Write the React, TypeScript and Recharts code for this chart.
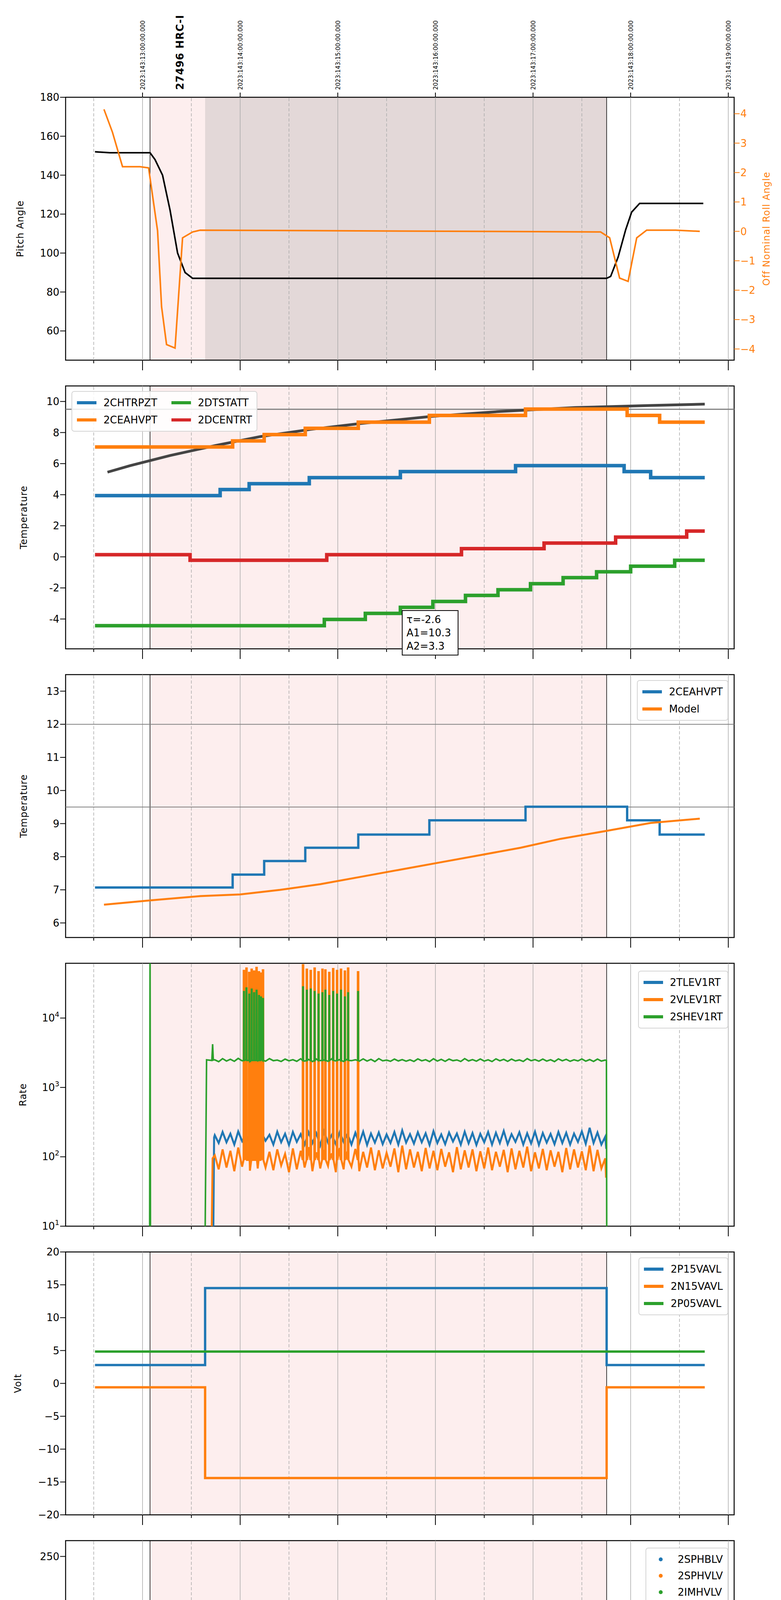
import React from 'react';
import {
  ComposedChart, Line, Scatter, XAxis, YAxis, ReferenceArea, ReferenceLine,
} from 'recharts';

// ---------- shared axis / layout values ----------
const X_DOMAIN: [number, number] = [8.212, 15.06];
const HOURS = [9, 10, 11, 12, 13, 14, 15];
const HALF_HOURS = [8.5, 9.5, 10.5, 11.5, 12.5, 13.5, 14.5];
const ALL_TICKS = [8.5, 9, 9.5, 10, 10.5, 11, 11.5, 12, 12.5, 13, 13.5, 14, 14.5, 15];
const OBS_START = 9.077;
const SLEW_END = 9.641;
const OBS_END = 13.754;

const BLUE = '#1f77b4';
const ORANGE = '#ff7f0e';
const GREEN = '#2ca02c';
const RED = '#d62728';
const FONT = 'DejaVu Sans';

type P = [number, number];

// ---------- panel 1: pitch / roll ----------
const pitch: P[] = [
  [8.513, 152], [8.667, 151.5], [9.077, 151.5], [9.128, 148], [9.205, 140], [9.282, 122],
  [9.359, 100], [9.436, 90], [9.513, 87], [13.754, 87], [13.795, 88], [13.872, 98],
  [13.949, 112], [14.01, 121], [14.092, 125.5], [14.744, 125.5],
];
const roll: P[] = [
  [8.605, 4.15], [8.692, 3.37], [8.795, 2.2], [8.974, 2.2], [9.062, 2.16], [9.154, 0.02],
  [9.195, -2.56], [9.246, -3.85], [9.333, -3.97], [9.41, -0.22], [9.513, -0.02], [9.59, 0.04],
  [13.692, -0.02], [13.785, -0.22], [13.887, -1.59], [13.974, -1.7], [14.062, -0.22],
  [14.164, 0.04], [14.462, 0.04], [14.708, 0.0],
];

// ---------- panel 2: temperatures ----------
const chtrpzt: P[] = [
  [8.513, 3.94], [9.795, 4.33], [10.092, 4.71], [10.708, 5.1], [11.641, 5.49], [12.821, 5.87],
  [13.933, 5.49], [14.205, 5.1], [14.759, 5.1],
];
const ceahvpt: P[] = [
  [8.513, 7.07], [9.923, 7.46], [10.246, 7.87], [10.667, 8.27], [11.21, 8.67], [11.938, 9.1],
  [12.923, 9.51], [13.964, 9.1], [14.297, 8.67], [14.759, 8.67],
];
const dcentrt: P[] = [
  [8.513, 0.14], [9.487, -0.22], [10.887, 0.14], [12.267, 0.53], [13.113, 0.89],
  [13.846, 1.27], [14.574, 1.66], [14.759, 1.66],
];
const dtstatt: P[] = [
  [8.513, -4.43], [10.862, -4.03], [11.282, -3.64], [11.641, -3.25], [11.974, -2.87],
  [12.308, -2.48], [12.641, -2.12], [12.974, -1.73], [13.308, -1.34], [13.651, -0.96],
  [14.0, -0.6], [14.451, -0.22], [14.759, -0.22],
];
const tempModel: P[] = [
  [8.641, 5.45], [8.872, 5.87], [9.282, 6.52], [9.744, 7.16], [10.205, 7.74], [10.718, 8.2],
  [11.231, 8.58], [11.949, 9.03], [12.667, 9.36], [13.436, 9.61], [14.205, 9.74], [14.759, 9.83],
];

// ---------- panel 3: 2CEAHVPT vs model ----------
const ceaModel: P[] = [
  [8.605, 6.55], [9.077, 6.68], [9.59, 6.81], [10.0, 6.86], [10.41, 7.0], [10.821, 7.17],
  [11.231, 7.39], [11.641, 7.61], [12.051, 7.83], [12.462, 8.05], [12.872, 8.27],
  [13.282, 8.54], [13.754, 8.78], [14.205, 9.02], [14.708, 9.15],
];

// ---------- panel 4: rates ----------
const rateTimes = [
  9.74, 9.78, 9.82, 9.86, 9.9, 9.94, 9.98, 10.02, 10.06, 10.1, 10.14, 10.18, 10.22, 10.26,
  10.3, 10.34, 10.38, 10.42, 10.46, 10.5, 10.54, 10.58, 10.62, 10.66, 10.7, 10.74, 10.78,
  10.82, 10.86, 10.9, 10.94, 10.98, 11.02, 11.06, 11.1, 11.14, 11.18, 11.22, 11.26, 11.3,
  11.34, 11.38, 11.42, 11.46, 11.5, 11.54, 11.58, 11.62, 11.66, 11.7, 11.74, 11.78, 11.82,
  11.86, 11.9, 11.94, 11.98, 12.02, 12.06, 12.1, 12.14, 12.18, 12.22, 12.26, 12.3, 12.34,
  12.38, 12.42, 12.46, 12.5, 12.54, 12.58, 12.62, 12.66, 12.7, 12.74, 12.78, 12.82, 12.86,
  12.9, 12.94, 12.98, 13.02, 13.06, 13.1, 13.14, 13.18, 13.22, 13.26, 13.3, 13.34, 13.38,
  13.42, 13.46, 13.5, 13.54, 13.58, 13.62, 13.66, 13.7, 13.74,
];
const tlev = [
  205, 158, 228, 162, 215, 150, 232, 168, 210, 152, 236, 158, 222, 170, 208, 150, 230, 162,
  215, 148, 228, 164, 212, 150, 226, 158, 218, 146, 232, 160, 208, 152, 226, 164, 214, 150,
  222, 156, 230, 148, 216, 160, 224, 152, 210, 158, 228, 150, 240, 160, 212, 155, 226, 162,
  218, 148, 234, 158, 210, 152, 224, 166, 216, 150, 230, 156, 220, 148, 214, 162, 228, 150,
  222, 158, 236, 152, 212, 164, 226, 150, 218, 156, 230, 148, 220, 160, 214, 152, 228, 158,
  222, 150, 216, 164, 232, 154, 262, 158, 224, 150, 195,
];
const vlev = [
  105, 66, 128, 70, 122, 62, 136, 72, 116, 63, 126, 68, 140, 70, 118, 64, 128, 75, 110, 60,
  132, 66, 122, 70, 138, 62, 116, 68, 126, 74, 112, 60, 134, 66, 120, 72, 130, 62, 118, 70,
  136, 64, 124, 68, 114, 72, 132, 60, 145, 66, 128, 70, 118, 62, 134, 68, 122, 64, 130, 72,
  116, 60, 138, 66, 124, 70, 128, 62, 120, 68, 136, 64, 118, 72, 126, 60, 132, 66, 122, 70,
  140, 62, 116, 68, 130, 64, 124, 72, 118, 60, 134, 66, 128, 70, 120, 64, 145, 62, 126, 68, 95,
];
const shev = [
  2500, 2350, 2600, 2400, 2550, 2380, 2620, 2420, 2500, 2360, 2580, 2410, 2540, 2390, 2600,
  2430, 2480, 2370, 2560, 2420, 2510, 2380, 2590, 2400, 2530, 2360, 2570, 2440, 2490, 2380,
  2600, 2410, 2520, 2370, 2560, 2430, 2500, 2390, 2580, 2400, 2540, 2360, 2600, 2420, 2480,
  2380, 2560, 2410, 2520, 2390, 2500, 2370, 2580, 2420, 2510, 2360, 2590, 2400, 2540, 2380,
  2560, 2430, 2490, 2370, 2600, 2410, 2520, 2390, 2570, 2400, 2500, 2360, 2580, 2420, 2540,
  2380, 2560, 2410, 2490, 2370, 2600, 2430, 2520, 2390, 2560, 2400, 2510, 2360, 2580, 2420,
  2540, 2380, 2500, 2410, 2570, 2390, 2520, 2370, 2560, 2400, 2480,
];
const spikeTimes = [
  10.036, 10.062, 10.09, 10.115, 10.14, 10.165, 10.19, 10.21, 10.231,
  10.641, 10.68, 10.72, 10.76, 10.8, 10.84, 10.87, 10.91, 10.95, 10.99, 11.03, 11.07, 11.103, 11.205,
];
const vlevPeaks = [
  48000, 52000, 45000, 50000, 47000, 53000, 46000, 44000, 49000,
  58000, 50000, 48000, 52000, 46000, 50000, 49000, 45000, 51000, 48000, 50000, 47000, 52000, 46000,
];
const shevPeaks = [
  24000, 27000, 22000, 26000, 23000, 25000, 21000, 20000, 19000,
  28000, 25000, 26000, 24000, 22000, 23000, 25000, 21000, 24000, 22000, 25000, 20000, 23000, 24000,
];

// ---------- panel 5: voltages ----------
const p15: P[] = [[8.513, 2.8], [9.641, 14.5], [13.754, 2.8], [14.759, 2.8]];
const n15: P[] = [[8.513, -0.6], [9.641, -14.4], [13.754, -0.6], [14.759, -0.6]];
const p05: P[] = [[8.513, 4.85], [14.759, 4.85]];

// ---------- panel 6: HV monitor ----------
const imhvlvBand: P[] = [[9.72, 79], [13.754, 79]];
const imhblvBand: P[] = [[9.733, 86], [13.754, 86]];
const imhvlvDots: P[] = [
  [9.667, 100], [9.672, 95], [9.677, 90], [9.687, 86], [9.697, 82], [9.71, 80],
  [10.103, 127], [10.959, 127], [11.01, 127], [11.103, 127],
];
const imhblvDots: P[] = [
  [9.667, 127], [9.667, 125], [9.667, 119], [9.672, 106], [9.677, 105], [9.682, 101],
  [9.687, 97], [9.69, 93], [9.697, 90], [9.703, 88], [9.71, 87],
  [10.092, 79], [10.1, 79], [10.954, 79], [11.01, 79], [11.1, 79],
];

// ---------- panel 7: detector temps ----------
const imhvatm: P[] = [
  [9.636, -5], [9.641, 15.58], [9.862, 15.8], [9.974, 16.1], [10.077, 16.42], [10.205, 16.7],
  [10.349, 16.95], [10.513, 17.23], [10.708, 17.6], [10.964, 17.83], [11.292, 18.13],
  [11.703, 18.4], [12.215, 18.68], [12.974, 18.97], [13.754, 25], [13.758, -5],
];
const sphvatm: P[] = [
  [9.641, 16.1], [10.554, 16.42], [11.051, 16.65], [11.59, 16.95], [12.231, 17.25],
  [13.036, 17.52], [13.744, 17.52],
];
const sphvatmDips = [
  10.6, 10.6, 10.6, 10.6, 10.6, 10.7, 10.8, 10.8, 10.8,
  11.1, 11.1, 11.1, 11.1, 11.1, 11.1, 11.1, 11.1, 11.1, 11.1, 11.1, 11.1, 11.4, 16.65,
];
const spinatm: P[] = [[9.641, 3.26], [11.821, 3.72], [13.564, 4.15], [13.744, 4.15]];
const iminatm: P[] = [[9.641, 0.66], [10.554, 1.09], [11.979, 1.5], [13.041, 1.93], [13.744, 1.93]];

// ---------- panel 8: FEA temps ----------
const fhtrmzt: P[] = [
  [8.513, -7.98], [9.862, -7.56], [10.036, -7.17], [10.195, -6.78], [10.349, -6.39],
  [10.513, -5.97], [10.682, -5.57], [10.862, -5.19], [11.026, -4.8], [11.205, -4.41],
  [11.395, -4.02], [11.59, -3.65], [11.785, -3.26], [11.99, -2.86], [12.205, -2.51],
  [12.421, -2.14], [12.651, -1.75], [12.882, -1.36], [13.118, -0.99], [13.374, -0.6],
  [13.651, -0.24], [14.128, -0.6], [14.436, -0.99], [14.759, -0.99],
];
const fhtrmztSpikeT = [11.272, 12.446, 13.036, 13.692];
const fhtrmztSpikeV = [-5.26, -0.55, -2.53, -0.99];
const fradpyt: P[] = [
  [9.051, -11], [9.056, -9.6], [9.564, -11], [9.938, -9.6], [10.144, -9.2], [10.333, -8.8],
  [10.513, -8.39], [10.708, -7.98], [10.908, -7.56], [11.103, -7.17], [11.318, -6.78],
  [11.528, -6.39], [11.744, -5.99], [11.964, -5.58], [12.205, -5.21], [12.462, -4.8],
  [12.708, -4.43], [12.974, -4.04], [13.246, -3.66], [13.528, -3.28], [14.272, -3.66],
  [14.759, -3.66],
];
const fepratm: P[] = [
  [9.667, -6.65], [9.718, -6.18], [9.779, -5.76], [9.846, -5.4], [9.923, -5.0], [10.0, -4.61],
  [10.231, -3.83], [10.282, -3.42], [10.421, -3.0], [10.579, -2.58], [10.759, -2.2],
  [11.103, -1.39], [11.292, -1.02], [11.513, -0.6], [11.718, -0.19], [11.949, 0.28],
  [12.179, 0.68], [12.436, 1.09], [12.692, 1.53], [12.974, 1.93], [13.267, 2.39],
  [13.579, 2.83], [13.744, 2.83],
];
const fe00atm: P[] = [
  [9.636, -11], [9.641, -5.97], [9.744, -5.6], [9.897, -5.24], [9.974, -4.88], [10.231, -4.15],
  [10.308, -3.83], [10.462, -3.42], [10.538, -3.05], [10.718, -2.6], [11.077, -1.75],
  [11.231, -1.39], [11.385, -1.07], [11.528, -0.76], [11.692, -0.47], [11.872, -0.14],
  [12.026, 0.2], [12.205, 0.54], [12.359, 0.8], [12.538, 1.14], [12.759, 1.45],
  [12.949, 1.74], [13.128, 2.07], [13.323, 2.39], [13.579, 2.68], [13.754, 5], [13.758, -11],
];
const fe00DipT = [11.523, 11.667, 12.487, 13.333];
const fe00DipV = [-1.8, -1.5, -0.2, 1.7];

// ---------- helpers ----------
const pts = (a: P[]) => a.map(([x, y]) => ({ x, y }));
const levelAt = (steps: P[], t: number) => {
  let v = steps[0][1];
  for (const [x, y] of steps) if (x <= t) v = y;
  return v;
};
// step series with short excursions at the given times
const withSpikes = (steps: P[], times: number[], peaks: number[] | number, w: number) => {
  const out: P[] = [...steps];
  times.forEach((t, i) => {
    const pk = Array.isArray(peaks) ? peaks[i] : peaks;
    out.push([t, pk], [t + w, levelAt(steps, t)]);
  });
  return pts(out.sort((a, b) => a[0] - b[0]));
};
// noisy rate series: head + samples + narrow spikes + tail
const rateSeries = (head: P[], vals: number[], tail: P[], base: number, peaks?: number[]) => {
  const out: P[] = [...head, ...rateTimes.map((t, i) => [t, vals[i]] as P), ...tail];
  if (peaks) spikeTimes.forEach((t, i) => out.push([t - 0.001, base], [t, peaks[i]], [t + 0.006, peaks[i]], [t + 0.007, base]));
  return pts(out.sort((a, b) => a[0] - b[0]));
};

const tickStyle = { fill: '#000', fontSize: 26, fontFamily: FONT };
const PH = 673;
const TOPS = [249, 988, 1727, 2466, 3205, 3944, 4683, 5422];
const PAD = 20;

function background(brown = false) {
  return [
    <ReferenceArea key="obs" x1={OBS_START} x2={OBS_END} fill="#fdeeee" fillOpacity={1} />,
    brown ? <ReferenceArea key="br" x1={SLEW_END} x2={OBS_END} fill="#e3d8d8" fillOpacity={1} /> : null,
    ...HOURS.map((h) => <ReferenceLine key={`h${h}`} x={h} stroke="#aaa" strokeWidth={1.5} />),
    ...HALF_HOURS.map((h) => <ReferenceLine key={`hh${h}`} x={h} stroke="#aaa" strokeWidth={1.5} strokeDasharray="8 5" />),
    <ReferenceLine key="s" x={OBS_START} stroke="#000" strokeWidth={1.5} />,
    <ReferenceLine key="e" x={OBS_END} stroke="#000" strokeWidth={1.5} />,
  ].filter(Boolean);
}

const frame = (y1: number, y2: number) => (
  <ReferenceArea x1={X_DOMAIN[0]} x2={X_DOMAIN[1]} y1={y1} y2={y2} fill="none" stroke="#000" strokeWidth={2.5} ifOverflow="visible" />
);

const MidTick = (p: any) => {
  const major = Number.isInteger(p.payload.value);
  return <line x1={p.x} x2={p.x} y1={p.y} y2={p.y + (major ? 26 : 8)} stroke="#000" strokeWidth={2} />;
};
const BottomTick = (p: any) => {
  const v = p.payload.value;
  const major = Number.isInteger(v);
  return (
    <g>
      <line x1={p.x} x2={p.x} y1={p.y} y2={p.y + (major ? 26 : 8)} stroke="#000" strokeWidth={2} />
      {major ? (
        <text x={p.x} y={p.y + 62} textAnchor="middle" fontSize={30} fontFamily={FONT}>{`${String(v).padStart(2, '0')}h`}</text>
      ) : (
        <text x={p.x} y={p.y + 22} textAnchor="middle" fontSize={17} fontFamily={FONT}>30</text>
      )}
    </g>
  );
};
const TopTick = (p: any) => (
  <g>
    <line x1={p.x} x2={p.x} y1={p.y} y2={p.y - 12} stroke="#000" strokeWidth={2} />
    <text transform={`translate(${p.x + 6},${p.y - 19}) rotate(-90)`} fontSize={15} fontFamily={FONT}>
      {`2023:143:${p.payload.value + 4}:00:00.000`}
    </text>
  </g>
);
const LogTick = (p: any) => (
  <text x={p.x} y={p.y + 9} textAnchor="end" fontSize={26} fontFamily={FONT}>
    10<tspan dy={-12} fontSize={18}>{Math.round(Math.log10(p.payload.value))}</tspan>
  </text>
);

interface LegendItem { name: string; color: string; dot?: boolean }
function LegendBox({ items, style, cols = 1 }: { items: LegendItem[]; style: React.CSSProperties; cols?: number }) {
  return (
    <div style={{
      position: 'absolute', background: 'rgba(255,255,255,0.85)', border: '2px solid #d5d5d5', borderRadius: 7,
      padding: '10px 12px', display: 'grid', gridTemplateColumns: `repeat(${cols}, auto)`, columnGap: 36, rowGap: 8,
      fontFamily: FONT, fontSize: 26, zIndex: 5, ...style,
    }}>
      {items.map((it) => (
        <div key={it.name} style={{ display: 'flex', alignItems: 'center', gap: 18, height: 36 }}>
          {it.dot ? (
            <span style={{ width: 50, display: 'flex', justifyContent: 'center' }}>
              <span style={{ width: 10, height: 10, borderRadius: 5, background: it.color }} />
            </span>
          ) : (
            <span style={{ width: 50, height: 8, background: it.color }} />
          )}
          <span>{it.name}</span>
        </div>
      ))}
    </div>
  );
}

// axis titles, drawn in one overlay
const Y_LABELS: { text: string; x: number; panel: number; color?: string }[] = [
  { text: 'Pitch Angle', x: 51, panel: 0 },
  { text: 'Off Nominal Roll Angle', x: 1962, panel: 0, color: ORANGE },
  { text: 'Temperature', x: 60, panel: 1 },
  { text: 'Temperature', x: 60, panel: 2 },
  { text: 'Rate', x: 58, panel: 3 },
  { text: 'Volt', x: 45, panel: 4 },
  { text: 'HV Monitor', x: 51, panel: 5 },
  { text: 'Detector Temp', x: 41, panel: 6 },
  { text: 'FEA Temp', x: 61, panel: 7 },
];

const xAxisMid = (
  <XAxis dataKey="x" type="number" domain={X_DOMAIN} allowDataOverflow ticks={ALL_TICKS} tick={<MidTick />}
    tickLine={false} axisLine={false} tickSize={0} tickMargin={0} height={40} interval={0} />
);

function Chart({ idx, children, height, margin }: { idx: number; children: React.ReactNode; height?: number; margin?: any }) {
  return (
    <div style={{ position: 'absolute', left: 0, top: idx === 0 ? 0 : TOPS[idx] - PAD }}>
      <ComposedChart width={2000} height={height ?? PH + 40 + PAD} margin={margin ?? { top: PAD, right: 120, bottom: 0, left: 0 }}>
        {children}
      </ComposedChart>
    </div>
  );
}

const yAxisProps = {
  type: 'number' as const, width: 168, tick: tickStyle, tickSize: 14, axisLine: false,
  tickLine: { stroke: '#000', strokeWidth: 2 }, allowDataOverflow: true, interval: 0 as const,
};
const minus = (v: number) => String(v).replace('-', '\u2212');

export default function App() {
  return (
    <div style={{ position: 'relative', width: 2000, height: 6200, background: '#fff', fontFamily: FONT }}>
      <style>{'body{margin:0}'}</style>

      {/* Panel 1 */}
      <Chart idx={0} height={249 + PH + 40} margin={{ top: 0, right: 0, bottom: 0, left: 0 }}>
        <XAxis xAxisId="top" orientation="top" dataKey="x" type="number" domain={X_DOMAIN} allowDataOverflow
          ticks={HOURS} tick={<TopTick />} tickLine={false} axisLine={false} tickSize={0} tickMargin={0} height={249} interval={0} />
        {xAxisMid}
        <YAxis {...yAxisProps} domain={[45, 180]} ticks={[60, 80, 100, 120, 140, 160, 180]} />
        <YAxis {...yAxisProps} yAxisId="r" orientation="right" width={120} domain={[-4.38, 4.56]}
          ticks={[-4, -3, -2, -1, 0, 1, 2, 3, 4]} tick={{ ...tickStyle, fill: ORANGE }} tickFormatter={minus}
          tickLine={{ stroke: ORANGE, strokeWidth: 2 }} />
        {background(true)}
        <ReferenceLine x={9.42} stroke="none" label={(p: any) => (
          <text transform={`translate(${p.viewBox.x},${p.viewBox.y - 19}) rotate(-90)`} fontSize={26}
            fontWeight="bold" fontFamily={FONT} letterSpacing={1}>27496 HRC-I</text>
        )} />
        <Line data={pts(pitch)} dataKey="y" stroke="#000" strokeWidth={4} dot={false} isAnimationActive={false} />
        <Line data={pts(roll)} dataKey="y" yAxisId="r" stroke={ORANGE} strokeWidth={4} dot={false} isAnimationActive={false} />
        {frame(45, 180)}
      </Chart>

      {/* Panel 2 */}
      <Chart idx={1}>
        {xAxisMid}
        <YAxis {...yAxisProps} domain={[-5.92, 11.0]} ticks={[-4, -2, 0, 2, 4, 6, 8, 10]} />
        {background()}
        <ReferenceLine y={9.5} stroke="#808080" strokeWidth={3} />
        <Line data={pts(tempModel)} dataKey="y" stroke="#444" strokeWidth={7} dot={false} isAnimationActive={false} />
        <Line data={pts(chtrpzt)} type="stepAfter" dataKey="y" stroke={BLUE} strokeWidth={9} dot={false} isAnimationActive={false} />
        <Line data={pts(ceahvpt)} type="stepAfter" dataKey="y" stroke={ORANGE} strokeWidth={9} dot={false} isAnimationActive={false} />
        <Line data={pts(dtstatt)} type="stepAfter" dataKey="y" stroke={GREEN} strokeWidth={9} dot={false} isAnimationActive={false} />
        <Line data={pts(dcentrt)} type="stepAfter" dataKey="y" stroke={RED} strokeWidth={9} dot={false} isAnimationActive={false} />
        {frame(-5.92, 11.0)}
      </Chart>
      <LegendBox cols={2} style={{ left: 183, top: 1001 }} items={[
        { name: '2CHTRPZT', color: BLUE }, { name: '2DTSTATT', color: GREEN },
        { name: '2CEAHVPT', color: ORANGE }, { name: '2DCENTRT', color: RED },
      ]} />
      <div style={{
        position: 'absolute', left: 1029, top: 1562, width: 145, height: 116, border: '2.5px solid #000',
        background: '#fff', fontSize: 26, lineHeight: '34px', padding: '5px 0 0 10px', boxSizing: 'border-box', zIndex: 5,
      }}>
        τ=-2.6<br />A1=10.3<br />A2=3.3
      </div>

      {/* Panel 3 */}
      <Chart idx={2}>
        {xAxisMid}
        <YAxis {...yAxisProps} domain={[5.56, 13.5]} ticks={[6, 7, 8, 9, 10, 11, 12, 13]} />
        {background()}
        <ReferenceLine y={12} stroke="#808080" strokeWidth={2} />
        <ReferenceLine y={9.5} stroke="#808080" strokeWidth={2} />
        <Line data={pts(ceahvpt)} type="stepAfter" dataKey="y" stroke={BLUE} strokeWidth={6} dot={false} isAnimationActive={false} />
        <Line data={pts(ceaModel)} dataKey="y" stroke={ORANGE} strokeWidth={5} dot={false} isAnimationActive={false} />
        {frame(5.56, 13.5)}
      </Chart>
      <LegendBox style={{ right: 135, top: 1741 }} items={[{ name: '2CEAHVPT', color: BLUE }, { name: 'Model', color: ORANGE }]} />

      {/* Panel 4 */}
      <Chart idx={3}>
        {xAxisMid}
        <YAxis {...yAxisProps} scale="log" domain={[10, 61600]} ticks={[10, 100, 1000, 10000]} tick={<LogTick />} />
        {background()}
        <Line data={rateSeries([[9.72, 1], [9.733, 190]], tlev, [[13.75, 130]], 190)}
          dataKey="y" stroke={BLUE} strokeWidth={5} dot={false} isAnimationActive={false} />
        <Line data={rateSeries([[9.7, 1], [9.718, 95]], vlev, [[13.748, 50]], 90, vlevPeaks)}
          dataKey="y" stroke={ORANGE} strokeWidth={5} dot={false} isAnimationActive={false} />
        <Line data={rateSeries([[9.06, 1], [9.072, 1], [9.077, 100000], [9.082, 1], [9.636, 1], [9.656, 2500], [9.71, 2450], [9.718, 4200], [9.725, 2480]], shev, [[13.752, 2450], [13.756, 1]], 2450, shevPeaks)}
          dataKey="y" stroke={GREEN} strokeWidth={4} dot={false} isAnimationActive={false} />
        {frame(10, 61600)}
      </Chart>
      <LegendBox style={{ right: 135, top: 2485 }} items={[
        { name: '2TLEV1RT', color: BLUE }, { name: '2VLEV1RT', color: ORANGE }, { name: '2SHEV1RT', color: GREEN },
      ]} />

      {/* Panel 5 */}
      <Chart idx={4}>
        {xAxisMid}
        <YAxis {...yAxisProps} domain={[-20, 20]} ticks={[-20, -15, -10, -5, 0, 5, 10, 15, 20]} tickFormatter={minus} />
        {background()}
        <Line data={pts(p15)} type="stepAfter" dataKey="y" stroke={BLUE} strokeWidth={6} dot={false} isAnimationActive={false} />
        <Line data={pts(n15)} type="stepAfter" dataKey="y" stroke={ORANGE} strokeWidth={6} dot={false} isAnimationActive={false} />
        <Line data={pts(p05)} type="stepAfter" dataKey="y" stroke={GREEN} strokeWidth={6} dot={false} isAnimationActive={false} />
        {frame(-20, 20)}
      </Chart>
      <LegendBox style={{ right: 135, top: 3219 }} items={[
        { name: '2P15VAVL', color: BLUE }, { name: '2N15VAVL', color: ORANGE }, { name: '2P05VAVL', color: GREEN },
      ]} />

      {/* Panel 6 */}
      <Chart idx={5}>
        {xAxisMid}
        <YAxis {...yAxisProps} domain={[0, 266]} ticks={[0, 50, 100, 150, 200, 250]} />
        {background()}
        <Line data={pts(imhvlvBand)} dataKey="y" stroke={GREEN} strokeWidth={11} strokeLinecap="round" dot={false} isAnimationActive={false} />
        <Line data={pts(imhblvBand)} dataKey="y" stroke={RED} strokeWidth={11} strokeLinecap="round" dot={false} isAnimationActive={false} />
        <Scatter data={pts(imhvlvDots)} dataKey="y" isAnimationActive={false}
          shape={(p: any) => <circle cx={p.cx} cy={p.cy} r={5.5} fill={GREEN} />} />
        <Scatter data={pts(imhblvDots)} dataKey="y" isAnimationActive={false}
          shape={(p: any) => <circle cx={p.cx} cy={p.cy} r={5.5} fill={RED} />} />
        {frame(0, 266)}
      </Chart>
      <LegendBox style={{ right: 135, top: 3962, rowGap: 6 }} items={[
        { name: '2SPHBLV', color: BLUE, dot: true }, { name: '2SPHVLV', color: ORANGE, dot: true },
        { name: '2IMHVLV', color: GREEN, dot: true }, { name: '2IMHBLV', color: RED, dot: true },
      ]} />

      {/* Panel 7 */}
      <Chart idx={6}>
        {xAxisMid}
        <YAxis {...yAxisProps} domain={[-0.41, 20.2]} ticks={[0, 2.5, 5, 7.5, 10, 12.5, 15, 17.5, 20]} tickFormatter={(v: number) => v.toFixed(1)} />
        {background()}
        <Line data={withSpikes(spinatm, spikeTimes, -1, 0.012)} type="stepAfter" dataKey="y" stroke={BLUE} strokeWidth={8} dot={false} isAnimationActive={false} />
        <Line data={withSpikes(sphvatm, spikeTimes, sphvatmDips, 0.012)}
          type="stepAfter" dataKey="y" stroke={ORANGE} strokeWidth={8} dot={false} isAnimationActive={false} />
        <Line data={withSpikes(iminatm, spikeTimes, 3.3, 0.012)} type="stepAfter" dataKey="y" stroke={GREEN} strokeWidth={8} dot={false} isAnimationActive={false} />
        <Line data={withSpikes(imhvatm, spikeTimes.slice(9, 22), 16.3, 0.012)} type="stepAfter" dataKey="y" stroke={RED} strokeWidth={8} dot={false} isAnimationActive={false} />
        {frame(-0.41, 20.2)}
      </Chart>
      <LegendBox style={{ right: 135, top: 4696, rowGap: 24 }} items={[
        { name: '2SPINATM', color: BLUE }, { name: '2SPHVATM', color: ORANGE },
        { name: '2IMINATM', color: GREEN }, { name: '2IMHVATM', color: RED },
      ]} />

      {/* Panel 8 */}
      <Chart idx={7} height={6200 - TOPS[7] + PAD}>
        <XAxis dataKey="x" type="number" domain={X_DOMAIN} allowDataOverflow ticks={ALL_TICKS} tick={<BottomTick />}
          tickLine={false} axisLine={false} tickSize={0} tickMargin={0} height={6200 - TOPS[7] - PH} interval={0} />
        <YAxis {...yAxisProps} domain={[-9.875, 2.99]} ticks={[-8, -6, -4, -2, 0, 2]} />
        {background()}
        <Line data={withSpikes(fhtrmzt, fhtrmztSpikeT, fhtrmztSpikeV, 0.01)} type="stepAfter" dataKey="y" stroke={BLUE} strokeWidth={8} dot={false} isAnimationActive={false} />
        <Line data={pts(fradpyt)} type="stepAfter" dataKey="y" stroke={ORANGE} strokeWidth={8} dot={false} isAnimationActive={false} />
        <Line data={withSpikes(fepratm, spikeTimes.slice(0, 22), -4.65, 0.012)} type="stepAfter" dataKey="y" stroke={GREEN} strokeWidth={8} dot={false} isAnimationActive={false} />
        <Line data={withSpikes(fe00atm, [...spikeTimes.slice(0, 22), ...fe00DipT], [...spikeTimes.slice(0, 22).map(() => 5), ...fe00DipV], 0.012)}
          type="stepAfter" dataKey="y" stroke={RED} strokeWidth={8} dot={false} isAnimationActive={false} />
        {frame(-9.875, 2.99)}
      </Chart>
      <LegendBox style={{ right: 135, top: 5905, rowGap: 4 }} items={[
        { name: '2FHTRMZT', color: BLUE }, { name: '2FRADPYT', color: ORANGE },
        { name: '2FEPRATM', color: GREEN }, { name: '2FE00ATM', color: RED },
      ]} />

      <svg width={2000} height={6200} style={{ position: 'absolute', left: 0, top: 0, pointerEvents: 'none', zIndex: 4 }}>
        {Y_LABELS.map((l) => (
          <text key={`${l.text}${l.panel}`} transform={`translate(${l.x + 9},${TOPS[l.panel] + PH / 2}) rotate(-90)`}
            textAnchor="middle" fontSize={24} letterSpacing={1} fontFamily={FONT} fill={l.color ?? '#000'}>{l.text}</text>
        ))}
        <text x={1024} y={6194} textAnchor="middle" fontSize={32} fontFamily={FONT}>2023-05-23 (143)</text>
      </svg>
    </div>
  );
}
